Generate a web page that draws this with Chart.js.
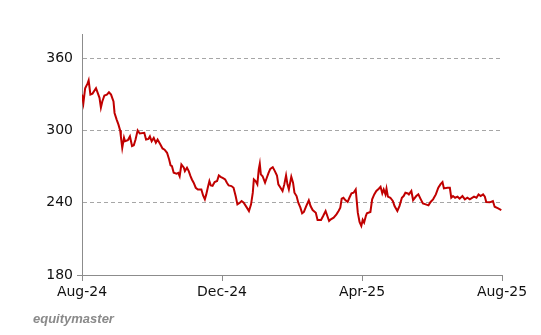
<!DOCTYPE html>
<html>
<head>
<meta charset="utf-8">
<script src="https://cdn.jsdelivr.net/npm/chart.js@4/dist/chart.umd.min.js"></script>
<style>
  html, body { margin: 0; padding: 0; background: #ffffff; }
  #wrap { position: relative; width: 541px; height: 335px; }
  #brand { position: absolute; left: 33px; top: 311px; font: italic bold 13px "Liberation Sans", Arial, sans-serif; color: #8a8a8a; letter-spacing: 0px; }
</style>
</head>
<body>
<div id="wrap">
  <canvas id="c" width="541" height="335"></canvas>
  <div id="brand">equitymaster</div>
</div>
<script>
// x positions in months since Aug-24
const months = [0.00,0.04,0.09,0.16,0.19,0.24,0.30,0.40,0.50,0.54,0.58,0.64,0.71,0.77,0.83,0.90,0.93,0.99,1.04,1.09,1.11,1.15,1.20,1.23,1.31,1.37,1.43,1.48,1.53,1.59,1.65,1.78,1.83,1.90,1.94,1.99,2.05,2.11,2.16,2.24,2.30,
2.36,2.43,2.49,2.53,2.57,2.62,2.70,2.75,2.79,2.84,2.91,2.94,3.00,3.05,3.10,3.14,3.19,3.25,3.31,3.41,3.46,3.51,3.55,3.60,3.64,3.68,3.73,3.79,3.86,3.91,3.96,4.03,4.09,4.14,4.19,4.27,4.33,4.39,4.44,4.51,4.56,4.62,
4.71,4.77,4.83,4.88,4.91,4.96,5.01,5.05,5.08,5.11,5.16,5.23,5.28,5.33,5.38,5.45,5.51,5.57,5.61,5.69,5.73,5.78,5.83,5.87,5.91,5.98,6.03,6.07,6.13,6.18,6.24,6.29,6.34,6.40,6.48,6.53,6.59,6.68,6.73,6.83,6.89,6.96,
7.06,7.11,7.19,7.27,7.33,7.38,7.42,7.47,7.53,7.59,7.64,7.70,7.76,7.82,7.88,7.93,7.98,8.02,8.06,8.11,8.14,8.24,8.29,8.35,8.41,8.48,8.53,8.58,8.62,8.67,8.70,8.74,8.81,8.88,8.93,9.01,9.07,9.14,9.19,9.24,9.31,
9.34,9.41,9.46,9.55,9.61,9.68,9.74,9.82,9.90,9.96,10.03,10.11,10.18,10.24,10.30,10.34,10.44,10.51,10.55,10.60,10.66,10.73,10.79,10.87,10.94,11.01,11.08,11.20,11.27,11.33,11.39,11.46,11.51,11.55,11.65,11.74,11.79,11.89,11.98];

const prices = [329.7,322.8,335,339,341.5,329.7,330.5,335,327,319,324,329,329.7,331.6,329.7,324,314.5,309,305,300,295,285.5,294,291,291.8,295,287,287.6,292.4,300,297.4,298,292.4,293,295,291,293.8,289.7,292.4,288.3,285,
284,281.4,275.9,271,270.3,264.8,264,264.8,262,271.7,269,266.2,269,266.2,262,259.3,256.6,252.4,251,251,246,242.8,246.9,253.2,257.9,254.3,254,257.1,258,262.6,261.5,260.4,259.3,256.6,254.3,253.8,252.4,245.5,238.6,240,241.4,240,
235.9,233.1,238.6,248.3,259.3,258,255.2,267.6,272.3,263.5,262,256.6,260.7,264.8,268.1,269.5,266.2,262.6,255.2,251.6,249.7,255.2,262.6,255.2,251,261.5,256.6,248.3,245.5,240,235.9,231.2,232.3,236.7,241.9,237.2,233.9,231.7,225.7,225.7,229,233.1,
224.8,226.2,227.6,230.3,233.1,235.9,243.3,244.1,242,240.6,244.1,247.7,248.3,251,231.7,224,220.7,225.7,223.5,229,231.2,232.3,242.8,246.9,249.7,251.6,253.2,247.7,251,246.9,251.6,245,244.1,241.4,237.2,233.1,237.2,244.1,245.5,248.3,247.7,
246.9,249.7,242.2,245.5,246.9,242.8,239.4,238.6,237.8,240.6,242.8,246.9,252.4,255.2,257.1,251.9,252.4,252.4,244.1,245.5,244.1,245,243.3,245.5,242.8,244.1,242.8,245,244.1,246.9,245.5,246.9,245,240.6,240.3,241.4,236.7,235.3,233.9];

const xTickLabels = ['Aug-24', 'Dec-24', 'Apr-25', 'Aug-25'];
const yTicks = [180, 240, 300, 360];

const points = months.map((m, i) => ({ x: m, y: prices[i] }));

new Chart(document.getElementById('c'), {
  type: 'line',
  data: {
    datasets: [{
      data: points,
      borderColor: '#c00000',
      borderWidth: 2,
      pointRadius: 0,
      tension: 0,
      fill: false
    }]
  },
  options: {
    responsive: false,
    animation: false,
    layout: { padding: { top: 34, right: 39, left: 0, bottom: 0 } },
    plugins: { legend: { display: false }, tooltip: { enabled: false } },
    scales: {
      x: {
        type: 'linear',
        min: 0,
        max: 12,
        afterFit: s => { s.height = 60; },
        afterBuildTicks: s => { s.ticks = [0, 4, 8, 12].map(v => ({ value: v })); },
        ticks: {
          stepSize: 4,
          autoSkip: false,
          maxRotation: 0,
          padding: 3,
          color: '#111',
          font: { family: 'DejaVu Sans', size: 14 },
          callback: v => xTickLabels[Math.round(v / 4)]
        },
        grid: { drawOnChartArea: false, drawTicks: true, tickLength: 6, tickColor: '#8c8c8c', tickWidth: 1 },
        border: { display: true, color: '#8c8c8c', width: 1 }
      },
      y: {
        min: 180,
        max: 380,
        afterFit: s => { s.width = 82; },
        afterBuildTicks: s => { s.ticks = yTicks.map(v => ({ value: v })); },
        ticks: {
          stepSize: 60,
          padding: 4,
          color: '#111',
          font: { family: 'DejaVu Sans', size: 14 }
        },
        grid: {
          color: ctx => (ctx.tick && ctx.tick.value === 180) ? 'rgba(0,0,0,0)' : '#a6a6a6',
          lineWidth: 1,
          drawTicks: true,
          tickLength: 5,
          tickColor: ctx => (ctx.tick && ctx.tick.value === 180) ? '#8c8c8c' : 'rgba(0,0,0,0)'
        },
        border: { display: true, color: '#8c8c8c', width: 1, dash: [4, 3] }
      }
    }
  }
});
</script>
</body>
</html>
